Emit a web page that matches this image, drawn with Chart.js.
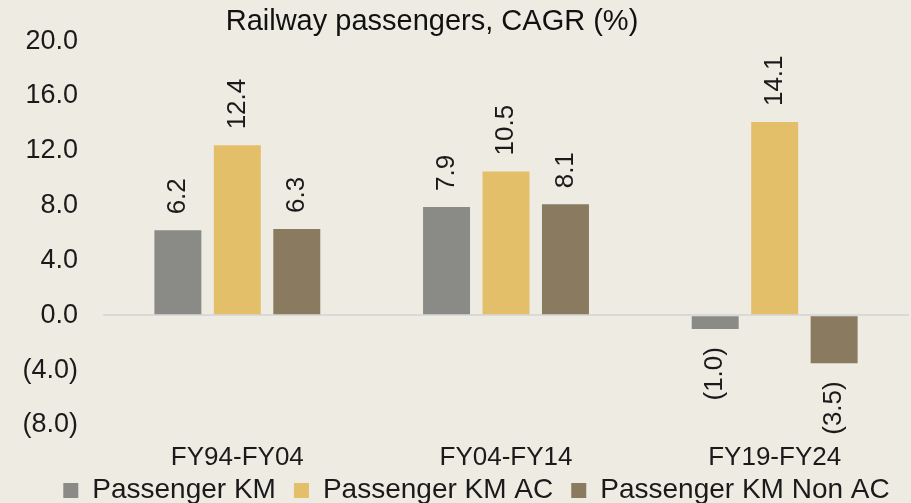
<!DOCTYPE html>
<html>
<head>
<meta charset="utf-8">
<title>Railway passengers, CAGR (%)</title>
<script src="https://cdn.jsdelivr.net/npm/chart.js@4.4.1/dist/chart.umd.min.js"></script>
<style>
  html, body { margin: 0; padding: 0; background: #eeebe3; }
  #wrap { width: 911px; height: 503px; }
</style>
</head>
<body>
<div id="wrap"><canvas id="chart" width="911" height="503"></canvas></div>
<script>
var categories = ['FY94-FY04', 'FY04-FY14', 'FY19-FY24'];
var seriesNames = ['Passenger KM', 'Passenger KM AC', 'Passenger KM Non AC'];
var kmValues = [6.2, 7.9, -1.0];
var kmAcValues = [12.4, 10.5, 14.1];
var kmNonAcValues = [6.3, 8.1, -3.5];
var yMin = -8, yMax = 20, yStep = 4;
var titleText = 'Railway passengers, CAGR (%)';

var colors = ['#8a8b86', '#e4bf6a', '#8a7a5f'];
var FONT = "'Liberation Sans', Arial, sans-serif";

function fmt(v) {
  return v < 0 ? '(' + Math.abs(v).toFixed(1) + ')' : v.toFixed(1);
}

// background fill + title text
var bgPlugin = {
  id: 'bg',
  beforeDraw: function (chart) {
    var ctx = chart.ctx;
    ctx.save();
    ctx.fillStyle = '#eeebe3';
    ctx.fillRect(0, 0, chart.width, chart.height);
    ctx.fillStyle = '#111';
    ctx.font = '29px ' + FONT;
    ctx.textAlign = 'center';
    ctx.textBaseline = 'middle';
    ctx.fillText(titleText, 432, 22);
    ctx.restore();
  }
};

// legend in the source sits a bit right of centre and tight under the labels
var legendShift = {
  id: 'legendShift',
  afterLayout: function (chart) {
    var lg = chart.legend;
    if (!lg) return;
    lg.left += 22;
    lg.right += 22;
    lg.top -= 12.5;
    lg.bottom = chart.height;
  }
};

// vertical value labels above / below each bar
var valueLabels = {
  id: 'valueLabels',
  afterDatasetsDraw: function (chart) {
    var ctx = chart.ctx;
    ctx.save();
    ctx.fillStyle = '#1a1a1a';
    ctx.font = '26px ' + FONT;
    ctx.textBaseline = 'middle';
    chart.data.datasets.forEach(function (ds, i) {
      var meta = chart.getDatasetMeta(i);
      meta.data.forEach(function (bar, j) {
        var v = ds.data[j];
        ctx.save();
        if (v >= 0) {
          ctx.translate(bar.x, bar.y - 16);
          ctx.rotate(-Math.PI / 2);
          ctx.textAlign = 'left';
        } else {
          ctx.translate(bar.x, bar.y + 18);
          ctx.rotate(-Math.PI / 2);
          ctx.textAlign = 'right';
        }
        ctx.fillText(fmt(v), 0, 0);
        ctx.restore();
      });
    });
    ctx.restore();
  }
};

var datasets = [kmValues, kmAcValues, kmNonAcValues].map(function (vals, i) {
  return {
    label: seriesNames[i],
    data: vals,
    backgroundColor: colors[i],
    borderWidth: 0,
    categoryPercentage: 0.664,
    barPercentage: 0.79
  };
});

new Chart(document.getElementById('chart').getContext('2d'), {
  type: 'bar',
  data: { labels: categories, datasets: datasets },
  options: {
    responsive: false,
    animation: false,
    layout: { padding: { left: 0, right: 2, top: 40, bottom: 0 } },
    scales: {
      x: {
        afterFit: function (scale) { scale.height = 46; },
        grid: { display: false },
        border: { display: false },
        ticks: { color: '#1a1a1a', font: { family: FONT, size: 26 }, padding: 9 }
      },
      y: {
        min: yMin,
        max: yMax,
        afterFit: function (scale) { scale.width = 103; },
        ticks: {
          stepSize: yStep,
          color: '#1a1a1a',
          font: { family: FONT, size: 27 },
          padding: 25,
          callback: function (v) { return fmt(v); }
        },
        grid: {
          drawTicks: false,
          color: function (c) { return c.tick && c.tick.value === 0 ? '#d9d9d9' : 'rgba(0,0,0,0)'; },
          lineWidth: 2
        },
        border: { display: false }
      }
    },
    plugins: {
      legend: {
        position: 'bottom',
        maxHeight: 32,
        labels: {
          color: '#1a1a1a',
          font: { family: FONT, size: 28 },
          boxWidth: 15,
          boxHeight: 15,
          padding: 18
        }
      },
      tooltip: { enabled: false }
    }
  },
  plugins: [bgPlugin, legendShift, valueLabels]
});
</script>
</body>
</html>
